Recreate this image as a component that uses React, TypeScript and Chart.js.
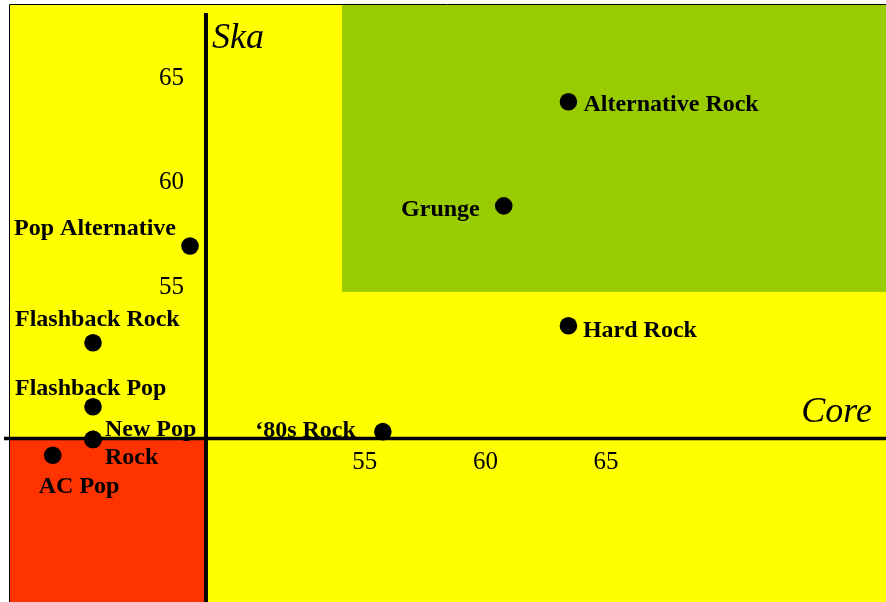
import React, { useEffect, useRef } from "react";
import { Chart, registerables } from "chart.js";

Chart.register(...registerables);

// ---- data ----
const genres = [
  "Alternative Rock",
  "Grunge",
  "Hard Rock",
  "\u201880s Rock",
  "Pop Alternative",
  "Flashback Rock",
  "Flashback Pop",
  "New Pop",
  "Rock",
  "AC Pop",
];
const coreScores = [63.44, 60.76, 63.44, 55.75, 47.76, 43.74, 43.74, 43.74, 43.74, 42.07];
const skaScores = [63.76, 58.78, 53.05, 47.99, 56.86, 52.24, 49.18, 47.62, 47.62, 46.86];

const tickValues = [55, 60, 65];
const coreRange = [40.3, 76.6];
const skaRange = [39.85, 68.38];
const coreCross = 48.42;
const skaCross = 47.66;
const greenZoneCore = 54.06;
const greenZoneSka = 54.67;
const xTitle = "Core";
const yTitle = "Ska";

// ---- styles ----
const SERIF = "'Liberation Serif', 'Times New Roman', Times, serif";
const YELLOW = "#FFFF00";
const GREEN = "#99CC00";
const RED = "#FF3300";

type Place = { align: CanvasTextAlign; dx: number; dy: number };
const labelPlacement: Place[] = [
  { align: "left", dx: 15, dy: 3 },
  { align: "right", dx: -24, dy: 3.5 },
  { align: "left", dx: 14.5, dy: 5 },
  { align: "right", dx: -27, dy: -1 },
  { align: "right", dx: -14, dy: -17 },
  { align: "left", dx: -78, dy: -22.5 },
  { align: "left", dx: -78, dy: -17.5 },
  { align: "left", dx: 12, dy: -9.5 },
  { align: "left", dx: 12, dy: 18.5 },
  { align: "left", dx: -14, dy: 31.5 },
];

export default function App() {
  const ref = useRef<HTMLCanvasElement>(null);

  useEffect(() => {
    const canvas = ref.current;
    if (!canvas) return;

    const quadrantPlugin = {
      id: "quadrants",
      beforeDraw(chart: any) {
        const { ctx, chartArea: a, scales } = chart;
        const x = scales.x;
        const y = scales.y;
        ctx.save();
        ctx.fillStyle = YELLOW;
        ctx.fillRect(a.left, a.top, a.right - a.left, a.bottom - a.top);
        const gx = x.getPixelForValue(greenZoneCore);
        const gy = y.getPixelForValue(greenZoneSka);
        ctx.fillStyle = GREEN;
        ctx.fillRect(gx, a.top, a.right - gx, gy - a.top);
        const rx = x.getPixelForValue(coreCross);
        const ry = y.getPixelForValue(skaCross);
        ctx.fillStyle = RED;
        ctx.fillRect(a.left, ry, rx - a.left, a.bottom - ry);
        ctx.strokeStyle = "#000";
        ctx.lineWidth = 1;
        ctx.beginPath();
        ctx.moveTo(a.left - 0.5, a.bottom);
        ctx.lineTo(a.left - 0.5, a.top - 0.5);
        ctx.lineTo(a.right, a.top - 0.5);
        ctx.stroke();
        ctx.restore();
      },
      beforeDatasetsDraw(chart: any) {
        const { ctx, chartArea: a, scales } = chart;
        const x = scales.x;
        const y = scales.y;
        const ax = x.getPixelForValue(coreCross);
        const ay = y.getPixelForValue(skaCross);
        ctx.save();
        ctx.strokeStyle = "#000";
        ctx.lineWidth = 4;
        ctx.beginPath();
        ctx.moveTo(ax, a.top + 8);
        ctx.lineTo(ax, a.bottom);
        ctx.stroke();
        ctx.lineWidth = 3.5;
        ctx.beginPath();
        ctx.moveTo(a.left - 6, ay);
        ctx.lineTo(a.right, ay);
        ctx.stroke();
        ctx.fillStyle = "#000";
        ctx.font = `25px ${SERIF}`;
        ctx.textBaseline = "middle";
        ctx.textAlign = "right";
        tickValues.forEach((v) => ctx.fillText(String(v), ax - 22, y.getPixelForValue(v) + 2.5));
        ctx.textAlign = "center";
        tickValues.forEach((v) => ctx.fillText(String(v), x.getPixelForValue(v), ay + 24));
        ctx.restore();
      },
      afterDatasetsDraw(chart: any) {
        const { ctx, chartArea: a, scales } = chart;
        const meta = chart.getDatasetMeta(0);
        ctx.save();
        ctx.fillStyle = "#000";
        ctx.textBaseline = "middle";
        ctx.font = `bold 24px ${SERIF}`;
        meta.data.forEach((pt: any, i: number) => {
          const p = labelPlacement[i];
          ctx.textAlign = p.align;
          ctx.fillText(genres[i], pt.x + p.dx, pt.y + p.dy);
        });
        ctx.font = `italic 36px ${SERIF}`;
        const ax = scales.x.getPixelForValue(coreCross);
        const ay = scales.y.getPixelForValue(skaCross);
        ctx.textAlign = "left";
        ctx.fillText(yTitle, ax + 6, a.top + 34);
        ctx.textAlign = "right";
        ctx.fillText(xTitle, a.right - 14, ay - 26);
        ctx.restore();
      },
    };

    const chart = new Chart(canvas, {
      type: "scatter",
      data: {
        datasets: [
          {
            data: genres.map((_, i) => ({ x: coreScores[i], y: skaScores[i] })),
            backgroundColor: "#000",
            borderWidth: 0,
            pointRadius: 8.8,
            pointHoverRadius: 8.8,
          },
        ],
      },
      options: {
        responsive: false,
        animation: false,
        devicePixelRatio: 1,
        layout: { autoPadding: false, padding: { left: 10, top: 5, right: 0, bottom: 0 } },
        plugins: { legend: { display: false }, tooltip: { enabled: false } },
        scales: {
          x: { type: "linear", min: coreRange[0], max: coreRange[1], display: false },
          y: { type: "linear", min: skaRange[0], max: skaRange[1], display: false },
        },
      },
      plugins: [quadrantPlugin],
    });

    return () => chart.destroy();
  }, []);

  return (
    <div style={{ position: "absolute", left: 0, top: 0, width: 886, height: 602, background: "#fff" }}>
      <canvas ref={ref} width={886} height={602} style={{ display: "block" }} />
    </div>
  );
}
